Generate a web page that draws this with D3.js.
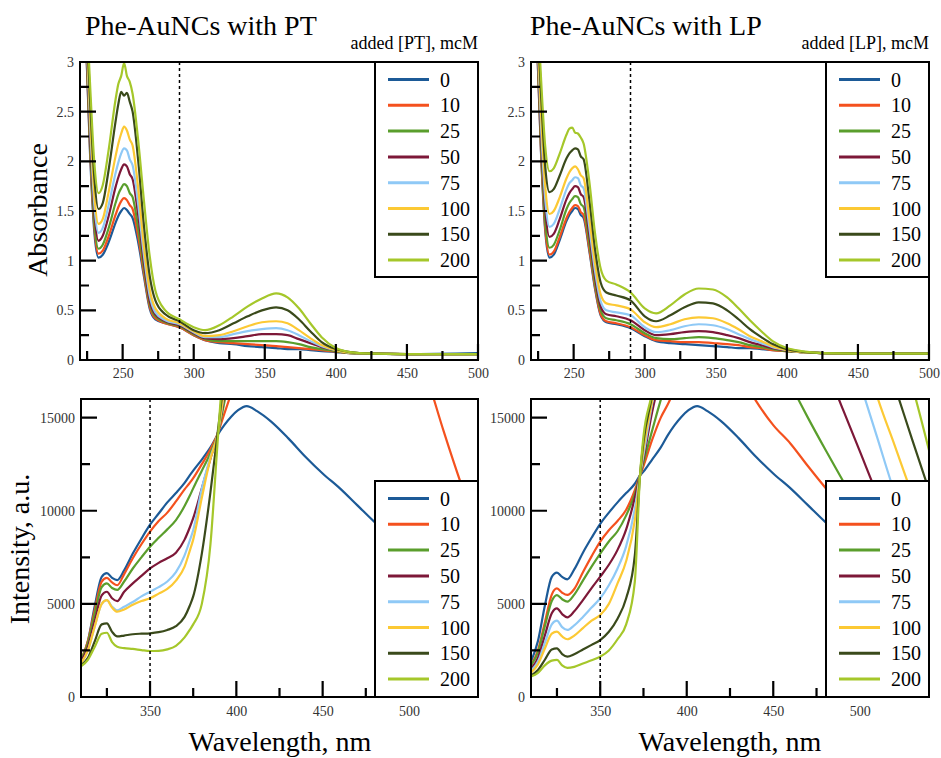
<!DOCTYPE html>
<html>
<head>
<meta charset="utf-8">
<script src="https://cdn.jsdelivr.net/npm/d3@7"></script>
<style>
  body { margin: 0; background: #fff; }
  svg { display: block; font-family: 'Liberation Serif', 'Times New Roman', serif; }
</style>
</head>
<body>
<svg id="chart"></svg>
<script>
/* Phe-AuNCs titration: absorbance (top) and emission (bottom) */

const concentrations = [0, 10, 25, 50, 75, 100, 150, 200];
const seriesColors = ['#1c5a97', '#f4511e', '#5a9e2c', '#7d1838', '#8fc9f6', '#fcc934', '#3a4a1b', '#a5c72a'];

// absorbance, nm
const absWavelengths = [220, 224, 227, 230, 233, 236, 240, 245, 247, 249, 251, 253, 255, 257, 261, 265, 269, 273, 280, 290,
  300, 308, 318, 328, 338, 348, 358, 366, 374, 382, 390, 400, 410, 425, 450, 500];

const absPT = [
  [4.5, 3.3, 2.1, 1.3, 1.03, 1.06, 1.18, 1.38, 1.45, 1.50, 1.53, 1.51, 1.47, 1.43, 1.18, 0.84, 0.52, 0.41, 0.37, 0.33, 0.25, 0.20, 0.17, 0.16, 0.14, 0.13, 0.12, 0.11, 0.11, 0.10, 0.09, 0.08, 0.07, 0.065, 0.06, 0.07],
  [4.5, 3.3, 2.15, 1.35, 1.07, 1.10, 1.24, 1.46, 1.54, 1.60, 1.63, 1.61, 1.56, 1.52, 1.24, 0.87, 0.54, 0.42, 0.37, 0.33, 0.25, 0.20, 0.18, 0.17, 0.16, 0.15, 0.14, 0.13, 0.12, 0.11, 0.10, 0.085, 0.07, 0.065, 0.06, 0.06],
  [4.5, 3.35, 2.2, 1.4, 1.12, 1.16, 1.32, 1.58, 1.67, 1.73, 1.77, 1.75, 1.68, 1.64, 1.32, 0.92, 0.57, 0.44, 0.38, 0.34, 0.26, 0.21, 0.19, 0.19, 0.19, 0.19, 0.19, 0.18, 0.16, 0.13, 0.11, 0.09, 0.07, 0.065, 0.06, 0.06],
  [4.5, 3.4, 2.3, 1.5, 1.20, 1.25, 1.44, 1.74, 1.84, 1.92, 1.97, 1.95, 1.87, 1.82, 1.45, 0.98, 0.60, 0.46, 0.39, 0.35, 0.27, 0.22, 0.21, 0.22, 0.24, 0.26, 0.26, 0.25, 0.21, 0.17, 0.13, 0.10, 0.075, 0.065, 0.06, 0.06],
  [4.5, 3.45, 2.4, 1.58, 1.28, 1.33, 1.55, 1.88, 1.99, 2.08, 2.13, 2.11, 2.02, 1.96, 1.56, 1.05, 0.65, 0.48, 0.40, 0.36, 0.28, 0.23, 0.23, 0.26, 0.29, 0.31, 0.32, 0.30, 0.25, 0.19, 0.14, 0.10, 0.075, 0.065, 0.06, 0.06],
  [4.5, 3.5, 2.5, 1.68, 1.37, 1.42, 1.68, 2.05, 2.18, 2.28, 2.35, 2.31, 2.22, 2.16, 1.72, 1.14, 0.71, 0.52, 0.42, 0.37, 0.29, 0.24, 0.25, 0.29, 0.34, 0.38, 0.39, 0.37, 0.30, 0.22, 0.15, 0.10, 0.075, 0.065, 0.06, 0.06],
  [4.5, 3.6, 2.65, 1.85, 1.52, 1.58, 1.90, 2.40, 2.58, 2.70, 2.66, 2.69, 2.60, 2.50, 2.00, 1.35, 0.85, 0.60, 0.46, 0.39, 0.30, 0.27, 0.30, 0.37, 0.44, 0.50, 0.53, 0.50, 0.41, 0.29, 0.18, 0.11, 0.08, 0.065, 0.06, 0.06],
  [4.5, 3.7, 2.8, 2.0, 1.68, 1.76, 2.10, 2.62, 2.78, 2.86, 2.99, 2.86, 2.80, 2.68, 2.20, 1.60, 1.05, 0.70, 0.50, 0.41, 0.33, 0.30, 0.35, 0.44, 0.54, 0.62, 0.67, 0.63, 0.52, 0.37, 0.23, 0.12, 0.08, 0.065, 0.06, 0.06],
];

const absLP = [
  [4.5, 3.3, 2.1, 1.3, 1.03, 1.06, 1.20, 1.40, 1.46, 1.50, 1.53, 1.52, 1.46, 1.43, 1.10, 0.72, 0.45, 0.38, 0.36, 0.32, 0.24, 0.19, 0.17, 0.16, 0.15, 0.14, 0.13, 0.12, 0.12, 0.11, 0.10, 0.09, 0.08, 0.07, 0.065, 0.07],
  [4.5, 3.3, 2.12, 1.33, 1.06, 1.09, 1.23, 1.43, 1.49, 1.53, 1.56, 1.55, 1.49, 1.46, 1.12, 0.74, 0.46, 0.39, 0.37, 0.33, 0.25, 0.20, 0.19, 0.18, 0.18, 0.17, 0.16, 0.15, 0.13, 0.12, 0.10, 0.09, 0.08, 0.07, 0.065, 0.065],
  [4.5, 3.35, 2.18, 1.40, 1.13, 1.16, 1.30, 1.52, 1.58, 1.62, 1.65, 1.64, 1.57, 1.54, 1.18, 0.78, 0.50, 0.42, 0.40, 0.36, 0.27, 0.22, 0.21, 0.22, 0.23, 0.22, 0.20, 0.18, 0.15, 0.13, 0.11, 0.09, 0.08, 0.07, 0.065, 0.065],
  [4.5, 3.4, 2.28, 1.52, 1.24, 1.27, 1.41, 1.62, 1.68, 1.72, 1.75, 1.74, 1.67, 1.64, 1.26, 0.84, 0.54, 0.46, 0.44, 0.40, 0.30, 0.25, 0.26, 0.28, 0.29, 0.28, 0.25, 0.22, 0.18, 0.15, 0.12, 0.095, 0.08, 0.07, 0.065, 0.065],
  [4.5, 3.45, 2.38, 1.62, 1.34, 1.37, 1.51, 1.72, 1.78, 1.81, 1.84, 1.83, 1.76, 1.73, 1.34, 0.90, 0.59, 0.50, 0.48, 0.45, 0.33, 0.28, 0.30, 0.34, 0.36, 0.35, 0.31, 0.26, 0.21, 0.17, 0.13, 0.10, 0.08, 0.07, 0.065, 0.065],
  [4.5, 3.5, 2.5, 1.75, 1.47, 1.50, 1.63, 1.83, 1.89, 1.93, 1.95, 1.92, 1.86, 1.83, 1.43, 0.98, 0.66, 0.57, 0.55, 0.51, 0.38, 0.33, 0.36, 0.41, 0.43, 0.42, 0.37, 0.31, 0.24, 0.19, 0.14, 0.10, 0.08, 0.07, 0.065, 0.065],
  [4.5, 3.6, 2.7, 1.95, 1.69, 1.72, 1.85, 2.03, 2.08, 2.11, 2.13, 2.12, 2.05, 2.02, 1.62, 1.12, 0.78, 0.68, 0.65, 0.60, 0.44, 0.39, 0.45, 0.53, 0.58, 0.57, 0.50, 0.41, 0.31, 0.23, 0.16, 0.11, 0.085, 0.07, 0.065, 0.065],
  [4.5, 3.7, 2.85, 2.15, 1.90, 1.93, 2.07, 2.27, 2.33, 2.34, 2.29, 2.28, 2.24, 2.18, 1.80, 1.28, 0.92, 0.80, 0.76, 0.68, 0.52, 0.47, 0.55, 0.66, 0.72, 0.71, 0.63, 0.52, 0.40, 0.29, 0.19, 0.12, 0.09, 0.07, 0.065, 0.065],
];

// emission, nm (values above 16000 run off the top of the frame)
const flWavelengths = [310, 314, 318, 322, 325, 328, 331, 335, 340, 345, 350, 355, 360, 365, 370, 373, 375, 380, 385, 389,
  393, 397, 401, 406, 412, 420, 430, 440, 450, 460, 470, 480, 490, 500, 510, 520, 530, 540];

const flPT = [
  [1900, 3000, 4900, 6450, 6650, 6400, 6280, 6800, 7700, 8500, 9250, 9850, 10450, 10950, 11500, 11900, 12150, 12750, 13400, 14050, 14600, 15050, 15400, 15620, 15350, 14800, 13900, 12900, 12000, 11200, 10300, 9400, 8600, 7800, 7000, 6300, 5600, 5000],
  [2000, 3000, 4700, 6200, 6400, 6150, 6000, 6600, 7450, 8200, 8880, 9450, 9900, 10500, 11150, 11500, 11750, 12500, 13300, 14100, 15200, 16300, 17500, 19000, 21000, 23500, 26000, 27500, 28000, 27500, 26000, 24000, 21800, 19800, 17300, 14300, 11500, 9000],
  [2000, 2900, 4500, 5900, 6100, 5850, 5750, 6200, 6900, 7500, 8070, 8550, 9000, 9500, 10250, 10800, 11200, 12150, 13100, 14050, 15800, 17800, 20000, 22500, 25500, 28500, 31000, 32000, 32500, 32000, 31000, 29500, 28000, 26000, 24000, 22000, 20000, 18500],
  [1900, 2700, 4100, 5450, 5650, 5300, 5150, 5650, 6100, 6500, 6900, 7200, 7450, 7750, 8450, 9100, 9600, 11200, 12800, 14050, 16200, 18800, 21500, 24500, 27500, 31000, 34000, 35500, 36000, 35500, 34500, 33000, 31000, 29000, 27000, 25000, 23000, 21000],
  [1800, 2500, 3800, 5000, 5200, 4850, 4650, 4850, 5100, 5400, 5650, 5900, 6200, 6700, 7600, 8400, 8950, 11200, 12900, 14050, 16400, 19000, 22000, 25500, 29000, 33000, 36000, 38000, 38500, 38000, 37000, 35500, 33500, 31500, 29500, 27500, 25500, 23500],
  [1800, 2500, 3800, 5000, 5200, 4800, 4580, 4700, 4950, 5150, 5300, 5550, 5800, 6250, 7000, 7850, 8450, 10700, 12800, 14050, 16500, 19200, 22500, 26000, 30000, 34000, 37500, 39500, 40000, 39500, 38500, 37000, 35000, 33000, 31000, 29000, 27000, 25000],
  [1700, 2100, 3000, 3900, 3950, 3500, 3250, 3300, 3370, 3400, 3420, 3480, 3600, 3800, 4300, 4900, 5400, 7700, 11000, 14050, 17200, 20500, 24000, 28000, 32000, 36000, 40000, 42000, 42500, 42000, 41000, 39500, 37500, 35500, 33500, 31500, 29500, 27500],
  [1650, 2000, 2700, 3400, 3450, 2950, 2700, 2620, 2580, 2520, 2470, 2480, 2560, 2750, 3200, 3600, 3900, 5000, 8200, 13500, 18500, 22000, 25500, 29500, 34000, 38000, 42000, 44000, 44500, 44000, 43000, 41500, 39500, 37500, 35500, 33500, 31500, 29500],
];

const flLP = [
  [1900, 3000, 4900, 6450, 6680, 6450, 6320, 6850, 7750, 8550, 9300, 9900, 10450, 10950, 11450, 11900, 12100, 12750, 13400, 14050, 14600, 15050, 15400, 15620, 15350, 14800, 13900, 12900, 12000, 11200, 10300, 9400, 8600, 7800, 7000, 6300, 5600, 5000],
  [1700, 2500, 4000, 5500, 5830, 5600, 5480, 5800, 6700, 7550, 8340, 8950, 9450, 10050, 11100, 11900, 12400, 13800, 15000, 15700, 16500, 17300, 18000, 18800, 19300, 19100, 17500, 15900, 14600, 13600, 12400, 11250, 10200, 9300, 8400, 7600, 6900, 6200],
  [1700, 2400, 3800, 5150, 5470, 5250, 5120, 5500, 6250, 7000, 7700, 8350, 8900, 9750, 10900, 11900, 12600, 14300, 15950, 17100, 18200, 19300, 20200, 21200, 22000, 22500, 22000, 20600, 18700, 16800, 15000, 13300, 11650, 10000, 8500, 7200, 6100, 5200],
  [1500, 2100, 3300, 4500, 4760, 4450, 4280, 4600, 5200, 5850, 6460, 7100, 7900, 9000, 10700, 11900, 12800, 15300, 17300, 18800, 20200, 21400, 22400, 23400, 24200, 24800, 24900, 24400, 23300, 21800, 19900, 17800, 15500, 13200, 10900, 8800, 7100, 5800],
  [1400, 1900, 2900, 3900, 4100, 3750, 3600, 3850, 4300, 4800, 5300, 6000, 6900, 8100, 10100, 11900, 13000, 15750, 18000, 19800, 21500, 23000, 24400, 25800, 27000, 28000, 28500, 28300, 27600, 26400, 24700, 22500, 19900, 16900, 13950, 11000, 8500, 6500],
  [1300, 1750, 2600, 3400, 3510, 3250, 3100, 3300, 3700, 4100, 4400, 5000, 6100, 7300, 9500, 11900, 13300, 15900, 18500, 20400, 22200, 23800, 25300, 26900, 28300, 29500, 30200, 30100, 29400, 28200, 26600, 24600, 22200, 19400, 16150, 13550, 10950, 8500],
  [1150, 1450, 2000, 2550, 2610, 2300, 2170, 2300, 2550, 2800, 3060, 3500, 4200, 5300, 7600, 11900, 13700, 16200, 19400, 21800, 23800, 25500, 27000, 28600, 30000, 31300, 32200, 32300, 31700, 30500, 28900, 26900, 24600, 22100, 19500, 16750, 13900, 11100],
  [1100, 1300, 1700, 1950, 1990, 1700, 1560, 1620, 1800, 1970, 2170, 2500, 3100, 3900, 6200, 11900, 14000, 16400, 20000, 22500, 25000, 27000, 28800, 30500, 32000, 33500, 34500, 34700, 34300, 33300, 31800, 29800, 27400, 25000, 22500, 19800, 16800, 13250],
];

// ticks
const absXTicks = [250, 300, 350, 400, 450, 500];
const absXMinor = [225, 275, 325, 375, 425, 475];
const absYTicks = [0, 0.5, 1, 1.5, 2, 2.5, 3];
const absYMinor = [0.25, 0.75, 1.25, 1.75, 2.25, 2.75];
const flXTicks = [350, 400, 450, 500];
const flXMinor = [325, 375, 425, 475, 525];
const flYTicks = [0, 5000, 10000, 15000];
const flYMinor = [2500, 7500, 12500];

const W = 941;
const H = 758;
const FONT = "'Liberation Serif', 'Times New Roman', serif";

const translate = (x, y) => `translate(${x}, ${y})`;

const svg = d3.select('#chart').attr('width', W).attr('height', H);
svg.append('defs');

const panels = [
  { left: 80, right: 478, top: 62, bottom: 360, wl: absWavelengths, series: absPT,
    xDomain: [220, 500], yDomain: [0, 3], xTicks: absXTicks, xMinor: absXMinor, yTicks: absYTicks, yMinor: absYMinor,
    marker: 290, labelPad: 8, legendTop: 62, legendBottom: 277 },
  { left: 531, right: 929, top: 62, bottom: 360, wl: absWavelengths, series: absLP,
    xDomain: [220, 500], yDomain: [0, 3], xTicks: absXTicks, xMinor: absXMinor, yTicks: absYTicks, yMinor: absYMinor,
    marker: 290, labelPad: 8, legendTop: 62, legendBottom: 277 },
  { left: 81, right: 478, top: 399, bottom: 697, wl: flWavelengths, series: flPT,
    xDomain: [310, 540], yDomain: [0, 16000], xTicks: flXTicks, xMinor: flXMinor, yTicks: flYTicks, yMinor: flYMinor,
    marker: 350, labelPad: 9, legendTop: 481, legendBottom: 697 },
  { left: 531, right: 929, top: 399, bottom: 697, wl: flWavelengths, series: flLP,
    xDomain: [310, 540], yDomain: [0, 16000], xTicks: flXTicks, xMinor: flXMinor, yTicks: flYTicks, yMinor: flYMinor,
    marker: 350, labelPad: 9, legendTop: 481, legendBottom: 697 },
];

const styleAxis = (g) => {
  g.select('.domain').remove();
  g.attr('font-family', FONT).attr('font-size', 14);
  g.selectAll('.tick text').attr('fill', '#333');
};

// inward tick marks as one path (major 16px, minor 9px)
const drawTicks = (p, x, y) => {
  const path = d3.path();
  p.xTicks.forEach(v => { path.moveTo(x(v), p.bottom); path.lineTo(x(v), p.bottom - 16); });
  p.xMinor.forEach(v => { path.moveTo(x(v), p.bottom); path.lineTo(x(v), p.bottom - 9); });
  p.yTicks.forEach(v => { path.moveTo(p.left, y(v)); path.lineTo(p.left + 16, y(v)); });
  p.yMinor.forEach(v => { path.moveTo(p.left, y(v)); path.lineTo(p.left + 9, y(v)); });

  svg.append('path')
    .attr('d', path.toString())
    .attr('fill', 'none')
    .attr('stroke', 'black')
    .attr('stroke-width', 2.2);
};

const drawLegend = (p) => {
  const lw = 103;
  const lx = p.right - lw;
  const ly = p.legendTop;
  const rowH = 25.8;
  const g = svg.append('g').attr('transform', translate(lx, ly));

  g.append('rect')
    .attr('width', lw)
    .attr('height', p.legendBottom - ly)
    .attr('fill', '#fff')
    .attr('stroke', '#000')
    .attr('stroke-width', 2);

  const rows = g.selectAll('g.row')
    .data(concentrations)
    .join('g')
    .attr('class', 'row')
    .attr('transform', (d, i) => translate(0, 17.5 + i * rowH));

  rows.append('line')
    .attr('x1', 13).attr('x2', 54)
    .attr('stroke', (d, i) => seriesColors[i])
    .attr('stroke-width', 3);

  rows.append('text')
    .attr('x', 65)
    .attr('dy', '0.35em')
    .attr('font-family', FONT)
    .attr('font-size', 20)
    .text(d => d);
};

const drawPanel = (p, idx) => {
  const x = d3.scaleLinear().domain(p.xDomain).range([p.left, p.right]);
  const y = d3.scaleLinear().domain(p.yDomain).range([p.bottom, p.top]);

  const clipId = `plot-clip-${idx}`;
  svg.select('defs').append('clipPath').attr('id', clipId)
    .append('rect')
    .attr('x', p.left).attr('y', p.top)
    .attr('width', p.right - p.left).attr('height', p.bottom - p.top);

  const line = d3.line()
    .x((d, k) => x(p.wl[k]))
    .y(d => y(d))
    .curve(d3.curveMonotoneX);

  svg.append('g')
    .attr('clip-path', `url(#${clipId})`)
    .selectAll('path')
    .data(p.series)
    .join('path')
    .attr('d', line)
    .attr('fill', 'none')
    .attr('stroke', (d, i) => seriesColors[i])
    .attr('stroke-width', 2.2)
    .attr('stroke-linejoin', 'round');

  // dotted reference wavelength
  svg.append('line')
    .attr('x1', x(p.marker)).attr('x2', x(p.marker))
    .attr('y1', p.top).attr('y2', p.bottom)
    .attr('stroke', '#000')
    .attr('stroke-width', 1.5)
    .attr('stroke-dasharray', '3,3');

  // tick labels from the d3 axes
  svg.append('g')
    .attr('transform', translate(0, p.bottom))
    .call(d3.axisBottom(x).tickValues(p.xTicks).tickSize(0).tickPadding(p.labelPad).tickFormat(d3.format('d')))
    .call(styleAxis);
  svg.append('g')
    .attr('transform', translate(p.left, 0))
    .call(d3.axisLeft(y).tickValues(p.yTicks).tickSize(0).tickPadding(6).tickFormat(d => String(d)))
    .call(styleAxis);

  svg.append('rect')
    .attr('x', p.left).attr('y', p.top)
    .attr('width', p.right - p.left).attr('height', p.bottom - p.top)
    .attr('fill', 'none')
    .attr('stroke', '#000')
    .attr('stroke-width', 2);

  drawTicks(p, x, y);
  drawLegend(p);
};

panels.forEach(drawPanel);

// titles and axis names
const addText = (txt, x, y, size, anchor = 'start', rotate = false) => {
  svg.append('text')
    .attr('transform', rotate ? `${translate(x, y)} rotate(-90)` : translate(x, y))
    .attr('text-anchor', anchor)
    .attr('font-family', FONT)
    .attr('font-size', size)
    .attr('fill', '#000')
    .text(txt);
};

addText('Phe-AuNCs with PT', 85, 35, 28);
addText('Phe-AuNCs with LP', 530, 35, 28);
addText('added [PT], mcM', 478, 49, 18, 'end');
addText('added [LP], mcM', 929, 49, 18, 'end');
addText('Absorbance', 47, 210, 28, 'middle', true);
addText('Intensity, a.u.', 29, 549, 28, 'middle', true);
addText('Wavelength, nm', 280, 751, 28, 'middle');
addText('Wavelength, nm', 730, 751, 28, 'middle');
</script>
</body>
</html>
